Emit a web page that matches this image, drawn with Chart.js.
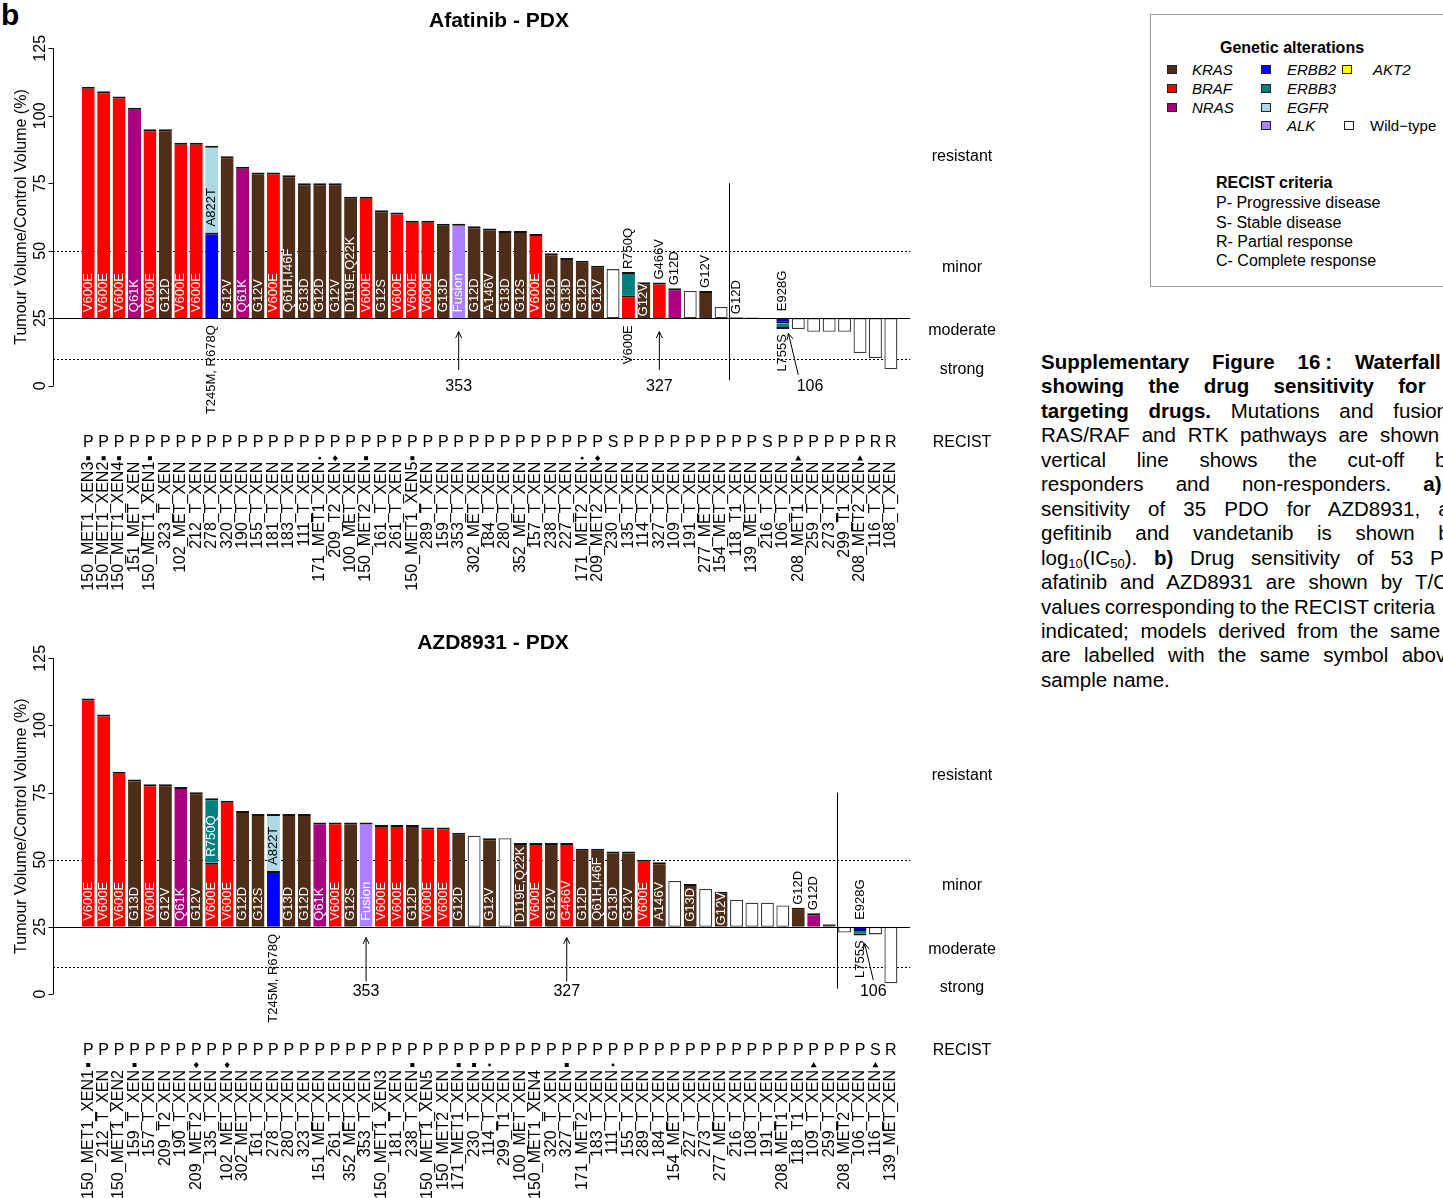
<!DOCTYPE html>
<html>
<head>
<meta charset="utf-8">
<script src="https://cdn.jsdelivr.net/npm/chart.js@4.4.1/dist/chart.umd.min.js"></script>
<style>
html, body { margin: 0; padding: 0; background: #fff; overflow: hidden; }
body { width: 1443px; height: 1198px; position: relative; font-family: 'Liberation Sans', Arial, sans-serif; color: #000; }
canvas { position: absolute; left: 0; }
#afatinib { top: 0; }
#azd { top: 615px; }
.t { position: absolute; white-space: nowrap; line-height: 1; }
.panel { left: 1px; top: 0; font-size: 30px; font-weight: bold; }
.box { position: absolute; left: 1150px; top: 14px; width: 330px; height: 271px; border: 1px solid #999; }
.lg { font-size: 15px; }
.hd { font-size: 16px; font-weight: bold; }
.rc { font-size: 16px; }
.sw { position: absolute; width: 10px; height: 9px; border: 1px solid #222; box-sizing: border-box; }
.cap { position: absolute; left: 1041px; white-space: nowrap; line-height: 1; font-size: 20.5px; }
.cap sub { font-size: 13px; vertical-align: -3px; line-height: 0; }
</style>
</head>
<body>
<div class="t panel">b</div>
<canvas id="afatinib" width="1020" height="615"></canvas>
<canvas id="azd" width="1020" height="583"></canvas>

<div class="box"></div>
<div class="t hd" style="left:1220px;top:39.5px">Genetic alterations</div>
<div class="sw" style="left:1167px;top:65px;background:#4e2d19"></div><div class="t lg" style="left:1192px;top:62px"><i>KRAS</i></div>
<div class="sw" style="left:1167px;top:84px;background:#ff0000"></div><div class="t lg" style="left:1192px;top:81px"><i>BRAF</i></div>
<div class="sw" style="left:1167px;top:103px;background:#aa0080"></div><div class="t lg" style="left:1192px;top:100px"><i>NRAS</i></div>
<div class="sw" style="left:1261px;top:65px;background:#0000ff"></div><div class="t lg" style="left:1287px;top:62px"><i>ERBB2</i></div>
<div class="sw" style="left:1261px;top:84px;background:#008080"></div><div class="t lg" style="left:1287px;top:81px"><i>ERBB3</i></div>
<div class="sw" style="left:1261px;top:103px;background:#add8e6"></div><div class="t lg" style="left:1287px;top:100px"><i>EGFR</i></div>
<div class="sw" style="left:1261px;top:121px;background:#aa80ff"></div><div class="t lg" style="left:1287px;top:118px"><i>ALK</i></div>
<div class="sw" style="left:1342px;top:65px;background:#ffff00"></div><div class="t lg" style="left:1373px;top:62px"><i>AKT2</i></div>
<div class="sw" style="left:1344px;top:121px;background:#fff"></div><div class="t lg" style="left:1370px;top:118px">Wild&#8722;type</div>
<div class="t hd" style="left:1216px;top:174.5px">RECIST criteria</div>
<div class="t rc" style="left:1216px;top:195px">P- Progressive disease</div>
<div class="t rc" style="left:1216px;top:214.5px">S- Stable disease</div>
<div class="t rc" style="left:1216px;top:234px">R- Partial response</div>
<div class="t rc" style="left:1216px;top:253.2px">C- Complete response</div>

<div id="caption"></div>

<script>
const FONT = "'Liberation Sans', Arial, Helvetica, sans-serif";

// models in afatinib order, with their main alteration
const afatinibModels = ['150_MET1_XEN3', '150_MET1_XEN2', '150_MET1_XEN4', '151_MET_XEN', '150_MET1_XEN1',
  '323_T_XEN', '102_MET_XEN', '212_T_XEN', '278_T_XEN', '320_T_XEN', '190_T_XEN', '155_T_XEN', '181_T_XEN',
  '183_T_XEN', '111_T_XEN', '171_MET1_XEN', '209_T2_XEN', '100_MET_XEN', '150_MET2_XEN', '161_T_XEN',
  '261_T_XEN', '150_MET1_XEN5', '289_T_XEN', '159_T_XEN', '353_T_XEN', '302_MET_XEN', '184_T_XEN',
  '280_T_XEN', '352_MET_XEN', '157_T_XEN', '238_T_XEN', '227_T_XEN', '171_MET2_XEN', '209_MET2_XEN',
  '230_T_XEN', '135_T_XEN', '114_T_XEN', '327_T_XEN', '109_T_XEN', '191_T_XEN', '277_MET_XEN',
  '154_MET_XEN', '118_T1_XEN', '139_MET_XEN', '216_T_XEN', '106_T_XEN', '208_MET1_XEN', '259_T_XEN',
  '273_T_XEN', '299_T1_XEN', '208_MET2_XEN', '116_T_XEN', '108_T_XEN'];
const alterationGene = ['BRAF', 'BRAF', 'BRAF', 'NRAS', 'BRAF', 'KRAS', 'BRAF', 'BRAF', 'ERBB2', 'KRAS',
  'NRAS', 'KRAS', 'BRAF', 'KRAS', 'KRAS', 'KRAS', 'KRAS', 'KRAS', 'BRAF', 'KRAS',
  'BRAF', 'BRAF', 'BRAF', 'KRAS', 'ALK', 'KRAS', 'KRAS', 'KRAS', 'KRAS', 'BRAF',
  'KRAS', 'KRAS', 'KRAS', 'KRAS', 'WT', 'BRAF', 'KRAS', 'BRAF', 'NRAS', 'WT',
  'KRAS', 'WT', 'KRAS', 'WT', 'WT', 'ERBB2', 'WT', 'WT', 'WT', 'WT',
  'WT', 'WT', 'WT'];
const alterationText = ['V600E', 'V600E', 'V600E', 'Q61K', 'V600E', 'G12D', 'V600E', 'V600E', 'T245M, R678Q', 'G12V',
  'Q61K', 'G12V', 'V600E', 'Q61H,I46F', 'G13D', 'G12D', 'G12V', 'D119E,Q22K', 'V600E', 'G12S',
  'V600E', 'V600E', 'V600E', 'G13D', 'Fusion', 'G12D', 'A146V', 'G13D', 'G12S', 'V600E',
  'G12D', 'G13D', 'G12D', 'G12V', '', 'V600E', 'G12V', 'G466V', 'G12D', '',
  'G12V', '', 'G12D', '', '', 'E928G', '', '', '', '',
  '', '', ''];

// models carrying a second alteration (stacked on top of the first)
const dualModels = ['278_T_XEN', '135_T_XEN', '106_T_XEN'];
const dualGene = ['EGFR', 'ERBB3', 'ERBB3'];
const dualText = ['A822T', 'R750Q', 'L755S'];

// Afatinib - PDX
const afatinibTC = [110.8, 109.1, 107.1, 103.0, 95.0, 95.0, 90.0, 90.0, 88.9, 85.0,
  81.1, 79.0, 79.0, 78.0, 75.0, 75.0, 75.0, 70.0, 70.0, 65.0,
  64.2, 61.1, 61.1, 60.0, 60.0, 59.1, 58.2, 57.3, 57.3, 56.2,
  49.1, 47.3, 46.3, 44.4, 43.2, 42.1, 38.3, 38.2, 36.1, 35.1,
  35.1, 29.2, 25.4, 25.3, 24.7, 21.0, 21.0, 20.0, 20.0, 20.0,
  12.1, 10.2, 6.1];
const afatinibSplitTC = [56.8, 33.5, 23.1];
const afatinibRecist = ('PPPPPPPPPP' + 'PPPPPPPPPP' + 'PPPPPPPPPP' + 'PPPP' + 'S' +
  'PPPPPPPPP' + 'S' + 'PPPPPP' + 'RR').split('');
const afatinibMarkAt = [0, 1, 2, 4, 15, 16, 18, 21, 32, 33, 46, 50];
const afatinibMarkShape = ['sq', 'sq', 'sq', 'sq', 'dot', 'dia', 'sq', 'sq', 'dot', 'dia', 'tri', 'tri'];

// AZD8931 - PDX
const azdModels = ['150_MET1_XEN1', '212_T_XEN', '150_MET1_XEN2', '159_T_XEN', '157_T_XEN', '209_T2_XEN',
  '190_T_XEN', '209_MET2_XEN', '135_T_XEN', '102_MET_XEN', '302_MET_XEN', '161_T_XEN', '278_T_XEN',
  '280_T_XEN', '323_T_XEN', '151_MET_XEN', '261_T_XEN', '352_MET_XEN', '353_T_XEN', '150_MET1_XEN3',
  '181_T_XEN', '238_T_XEN', '150_MET1_XEN5', '150_MET2_XEN', '171_MET1_XEN', '230_T_XEN', '114_T_XEN',
  '299_T1_XEN', '100_MET_XEN', '150_MET1_XEN4', '320_T_XEN', '327_T_XEN', '171_MET2_XEN', '183_T_XEN',
  '111_T_XEN', '155_T_XEN', '289_T_XEN', '184_T_XEN', '154_MET_XEN', '227_T_XEN', '273_T_XEN',
  '277_MET_XEN', '216_T_XEN', '108_T_XEN', '191_T_XEN', '208_MET1_XEN', '118_T1_XEN', '109_T_XEN',
  '259_T_XEN', '208_MET2_XEN', '106_T_XEN', '116_T_XEN', '139_MET_XEN'];
const azdTC = [110.0, 104.1, 82.8, 79.9, 78.1, 78.1, 77.1, 75.1, 72.9, 72.0,
  68.1, 67.0, 67.0, 67.0, 67.0, 63.9, 63.9, 63.9, 63.9, 62.9,
  62.9, 62.9, 62.0, 62.0, 60.0, 58.9, 58.0, 58.0, 56.2, 56.2,
  56.2, 56.2, 54.1, 54.1, 53.1, 53.1, 50.0, 49.1, 42.1, 41.0,
  39.1, 38.1, 35.1, 34.0, 34.0, 33.0, 32.1, 30.1, 26.0, 22.9,
  21.8, 22.2, 4.0];
const azdSplitTC = [45.8, 48.9, 23.5];
const azdRecist = ('PPPPPPPPPP' + 'PPPPPPPPPP' + 'PPPPPPPPPP' + 'PPPPPPPPPP' + 'PPPPPPPPPP' +
  'P' + 'S' + 'R').split('');
const azdMarkAt = [0, 3, 7, 9, 21, 24, 25, 26, 31, 34, 47, 51];
const azdMarkShape = ['sq', 'sq', 'dia', 'dia', 'sq', 'sq', 'sq', 'dot', 'sq', 'dot', 'tri', 'tri'];

const geneColours = {
  KRAS: '#4e2d19', BRAF: '#ff0000', NRAS: '#aa0080', ERBB2: '#0000ff', ERBB3: '#008080',
  EGFR: '#add8e6', ALK: '#aa80ff', AKT2: '#ffff00', WT: '#ffffff'
};

Chart.defaults.font.family = FONT;
Chart.defaults.font.size = 16;
Chart.defaults.color = '#000';

function vtext(ctx, s, x, y, align, colour) {
  ctx.save();
  ctx.translate(x, y);
  ctx.rotate(-Math.PI / 2);
  ctx.textAlign = align;
  ctx.textBaseline = 'middle';
  ctx.fillStyle = colour;
  ctx.fillText(s, 0, 0);
  ctx.restore();
}

function arrow(ctx, x1, y1, x2, y2) {
  const ang = Math.atan2(y2 - y1, x2 - x1), L = 7, sp = Math.PI / 7;
  ctx.beginPath();
  ctx.moveTo(x1, y1);
  ctx.lineTo(x2, y2);
  ctx.moveTo(x2 - L * Math.cos(ang - sp), y2 - L * Math.sin(ang - sp));
  ctx.lineTo(x2, y2);
  ctx.lineTo(x2 - L * Math.cos(ang + sp), y2 - L * Math.sin(ang + sp));
  ctx.stroke();
}

function drawMark(ctx, shape, x, y) {
  ctx.beginPath();
  if (shape === 'sq') ctx.rect(x - 2, y - 2, 4, 4);
  else if (shape === 'dot') ctx.arc(x, y, 1.4, 0, Math.PI * 2);
  else if (shape === 'dia') { ctx.moveTo(x, y - 3); ctx.lineTo(x + 2.6, y); ctx.lineTo(x, y + 3); ctx.lineTo(x - 2.6, y); }
  else if (shape === 'tri') { ctx.moveTo(x, y - 3); ctx.lineTo(x + 3, y + 2.2); ctx.lineTo(x - 3, y + 2.2); }
  ctx.closePath();
  ctx.fill();
}

function makeWaterfall(canvasId, cfg) {
  const models = cfg.models;
  const gene = models.map(m => alterationGene[afatinibModels.indexOf(m)]);
  const mut = models.map(m => alterationText[afatinibModels.indexOf(m)]);
  const dual = models.map(m => dualModels.indexOf(m));
  const splitAt = dual.map(k => (k < 0 ? null : cfg.split[k]));

  const lower = cfg.tc.map((v, i) => [25, splitAt[i] == null ? v : splitAt[i]]);
  const upper = cfg.tc.map((v, i) => (splitAt[i] == null ? null : [splitAt[i], v]));

  const isWhite = i => gene[i] === 'WT';
  // coloured bars get a dark cap at their far end, wild-type bars a full outline
  const edge = c => {
    const v = c.raw;
    if (!v) return 0;
    if (c.datasetIndex === 0 && isWhite(c.dataIndex)) return 1.3;
    return v[1] >= v[0] ? { top: 2, right: 0, bottom: 0, left: 0 } : { top: 0, right: 0, bottom: 2, left: 0 };
  };
  const edgeColour = c => (c.datasetIndex === 0 && isWhite(c.dataIndex) ? '#3a3a3a' : '#111');

  const decor = {
    id: 'waterfallDecor',
    beforeDatasetsDraw(chart) {
      const { ctx, chartArea: a, scales: { y } } = chart;
      const x0 = a.left - 27.5, x1 = a.right + 11.5;
      ctx.save();
      ctx.strokeStyle = '#000';
      ctx.lineWidth = 1;
      ctx.setLineDash([2, 2]);
      [50, 10].forEach(v => {
        const py = Math.round(y.getPixelForValue(v)) + 0.5;
        ctx.beginPath(); ctx.moveTo(x0, py); ctx.lineTo(x1, py); ctx.stroke();
      });
      ctx.restore();
    },
    afterDatasetsDraw(chart) {
      const { ctx, chartArea: a, scales: { x, y } } = chart;
      const x0 = a.left - 27.5, x1 = a.right + 11.5;
      const step = x.getPixelForValue(1) - x.getPixelForValue(0);
      const px = i => x.getPixelForValue(0) + i * step;
      ctx.save();
      ctx.strokeStyle = '#000';
      ctx.fillStyle = '#000';
      ctx.lineWidth = 1;

      // base line at 25 %
      const pb = Math.round(y.getPixelForValue(25)) + 0.5;
      ctx.beginPath(); ctx.moveTo(x0, pb); ctx.lineTo(x1, pb); ctx.stroke();

      // y axis line and ticks
      const ax = Math.round(x0) + 0.5;
      ctx.beginPath();
      ctx.moveTo(ax, y.getPixelForValue(0)); ctx.lineTo(ax, y.getPixelForValue(125));
      for (let v = 0; v <= 125; v += 25) {
        const py = Math.round(y.getPixelForValue(v)) + 0.5;
        ctx.moveTo(ax, py); ctx.lineTo(ax - 5, py);
      }
      ctx.stroke();

      // responder cut-off
      const cx = Math.round((px(cfg.cutAfter) + px(cfg.cutAfter + 1)) / 2) + 0.5;
      ctx.beginPath(); ctx.moveTo(cx, y.getPixelForValue(75)); ctx.lineTo(cx, y.getPixelForValue(2)); ctx.stroke();

      // mutation labels on the bars
      ctx.font = '13px ' + FONT;
      for (let i = 0; i < models.length; i++) {
        const segs = [{ lo: lower[i][0], hi: lower[i][1], text: mut[i], g: gene[i] }];
        if (upper[i]) segs.push({ lo: upper[i][0], hi: upper[i][1], text: dualText[dual[i]], g: dualGene[dual[i]] });
        const xc = px(i);
        segs.forEach((s, k) => {
          if (!s.text) return;
          const w = ctx.measureText(s.text).width;
          const pLo = y.getPixelForValue(s.lo), pHi = y.getPixelForValue(s.hi);
          const h = Math.abs(pLo - pHi);
          const up = s.hi >= s.lo;
          const pEnd = y.getPixelForValue(cfg.tc[i]);
          if (up && w <= h) {
            const gap = Math.min(6, (h - w) / 2 + 0.5);
            vtext(ctx, s.text, xc, pLo - gap, 'left', s.g === 'EGFR' ? '#000' : '#fff');
          } else if (k === 0 && segs.length > 1) {
            if (up) vtext(ctx, s.text, xc, pLo + 7, 'right', '#000');
            else vtext(ctx, s.text, xc, pLo - 7, 'left', '#000');
          } else if (up) {
            vtext(ctx, s.text, xc, pEnd - 3, 'left', '#000');
          } else {
            vtext(ctx, s.text, xc, pEnd + 5, 'right', '#000');
          }
        });
      }

      // arrows pointing at individual models
      ctx.font = '16px ' + FONT;
      ctx.textAlign = 'center';
      ctx.textBaseline = 'middle';
      cfg.arrows.forEach(r => {
        const tipX = px(r.at + (r.tipDx || 0)), tailX = px(r.at + (r.tailDx || 0));
        const tipY = y.getPixelForValue(r.tip ?? cfg.arrowTip);
        const tailY = y.getPixelForValue(r.tail ?? cfg.arrowTail);
        arrow(ctx, tailX, tailY, tipX, tipY);
        ctx.fillText(r.text, px(r.at + (r.textDx || 0)), y.getPixelForValue(cfg.arrowText));
      });

      // response categories on the right
      cfg.side.forEach(([v, s]) => ctx.fillText(s, 962, y.getPixelForValue(v)));
      ctx.fillText('RECIST', 962, a.bottom + cfg.recistDy);

      // RECIST calls and shared-patient symbols
      cfg.recist.forEach((r, i) => ctx.fillText(r, px(i), a.bottom + cfg.recistDy));
      cfg.markAt.forEach((i, k) => drawMark(ctx, cfg.markShape[k], px(i), a.bottom + cfg.markDy));

      // panel title
      ctx.font = 'bold 21px ' + FONT;
      ctx.fillText(cfg.title, cfg.titleX, cfg.titleY);
      ctx.restore();
    }
  };

  const canvas = document.getElementById(canvasId);
  const H = canvas.height;
  return new Chart(canvas.getContext('2d'), {
    type: 'bar',
    data: {
      labels: models,
      datasets: [
        { data: lower, backgroundColor: lower.map((_, i) => geneColours[gene[i]]) },
        { data: upper, backgroundColor: upper.map((_, i) => (dual[i] < 0 ? '#fff' : geneColours[dualGene[dual[i]]])) }
      ].map(d => Object.assign(d, {
        grouped: false, barPercentage: 0.84, categoryPercentage: 1.0,
        borderWidth: edge, borderColor: edgeColour, borderSkipped: false
      }))
    },
    options: {
      responsive: false,
      animation: false,
      devicePixelRatio: 1,
      layout: { padding: { left: 0, right: 121.4, top: cfg.top, bottom: 0 } },
      plugins: { legend: { display: false }, tooltip: { enabled: false } },
      scales: {
        x: {
          grid: { display: false, drawTicks: false },
          border: { display: false },
          ticks: { autoSkip: false, minRotation: 90, maxRotation: 90, padding: 76, font: { size: 16 }, color: '#000' },
          afterFit: s => { s.height = H - cfg.bottom; }
        },
        y: {
          min: 0, max: 125,
          grid: { display: false, drawTicks: false },
          border: { display: false },
          ticks: { stepSize: 25, minRotation: 90, maxRotation: 90, crossAlign: 'center', padding: 27, font: { size: 16 }, color: '#000' },
          title: { display: true, text: 'Tumour Volume/Control Volume (%)', font: { size: 16 }, color: '#000', padding: { top: 12, bottom: 0 } },
          afterFit: s => { s.width = 80.5; }
        }
      }
    },
    plugins: [decor]
  });
}

makeWaterfall('afatinib', {
  models: afatinibModels, tc: afatinibTC, split: afatinibSplitTC, recist: afatinibRecist,
  markAt: afatinibMarkAt, markShape: afatinibMarkShape,
  title: 'Afatinib - PDX', titleX: 499, titleY: 21,
  top: 48.3, bottom: 385.7, cutAfter: 41,
  arrowTip: 20, arrowTail: 5.8, arrowText: -0.4,
  arrows: [{ at: 24, text: '353' }, { at: 37, text: '327' },
    { at: 45, text: '106', tipDx: 0.36, tailDx: 1.0, textDx: 1.76, tip: 19.4, tail: 4.0 }],
  side: [[84.7, 'resistant'], [43.6, 'minor'], [20.3, 'moderate'], [5.9, 'strong']],
  recistDy: 57, markDy: 72.5
});

makeWaterfall('azd', {
  models: azdModels, tc: azdTC, split: azdSplitTC, recist: azdRecist,
  markAt: azdMarkAt, markShape: azdMarkShape,
  title: 'AZD8931 - PDX', titleX: 493, titleY: 28,
  top: 43.3, bottom: 379, cutAfter: 48,
  arrowTip: 21, arrowTail: 4.7, arrowText: 0.9,
  arrows: [{ at: 18, text: '353' }, { at: 31, text: '327' },
    { at: 50, text: '106', tipDx: 0.3, tailDx: 0.86, textDx: 0.86, tip: 18.8, tail: 5.2 }],
  side: [[81.5, 'resistant'], [40.2, 'minor'], [16.7, 'moderate'], [2.2, 'strong']],
  recistDy: 57, markDy: 71
});

// justified caption lines; the last word of each line is pinned to its x position
const captionLines = [
  ['<b>Supplementary Figure 16<span style="margin-left:5px">:</span> <span class="lw">Waterfall</span></b>', 1355],
  ['<b>showing the drug sensitivity <span class="lw">for</span></b>', 1398.3],
  ['<b>targeting drugs.</b> Mutations and <span class="lw">fusions</span>', 1393.3],
  ['RAS/RAF and RTK pathways are <span class="lw">shown</span>', 1380],
  ['vertical line shows the cut-off <span class="lw">between</span>', 1435],
  ['responders and non-responders. <span class="lw"><b>a)</b></span>', 1423.3],
  ['sensitivity of 35 PDO for AZD8931, <span class="lw">afatinib,</span>', 1438.3],
  ['gefitinib and vandetanib is shown <span class="lw">by</span>', 1438.3],
  ['log<sub>10</sub>(IC<sub>50</sub>). <b>b)</b> Drug sensitivity of 53 <span class="lw">PDX</span>', 1430],
  ['afatinib and AZD8931 are shown by <span class="lw">T/C</span>', 1415],
  ['values corresponding to the RECIST <span class="lw">criteria</span>', 1373.3],
  ['indicated; models derived from the <span class="lw">same</span>', 1390],
  ['are labelled with the same symbol <span class="lw">above</span>', 1401.7],
  ['sample name.', null]
];
const capBox = document.getElementById('caption');
const capLeft = 1041;
captionLines.forEach(([html, lastX], k) => {
  const d = document.createElement('div');
  d.className = 'cap';
  d.style.top = (352 + k * 24.45) + 'px';
  d.innerHTML = html;
  capBox.appendChild(d);
});
function spaceCaption() {
  capBox.querySelectorAll('.cap').forEach((d, k) => {
    const lastX = captionLines[k][1];
    const lw = d.querySelector('.lw');
    if (!lw || lastX == null) return;
    d.style.wordSpacing = '0px';
    const before = d.textContent.slice(0, d.textContent.lastIndexOf(lw.textContent));
    const gaps = (before.match(/ /g) || []).length;
    const natural = lw.getBoundingClientRect().left - d.getBoundingClientRect().left;
    d.style.wordSpacing = ((lastX - capLeft - natural) / gaps) + 'px';
  });
}
spaceCaption();
if (document.fonts) document.fonts.ready.then(spaceCaption);
</script>
</body>
</html>
